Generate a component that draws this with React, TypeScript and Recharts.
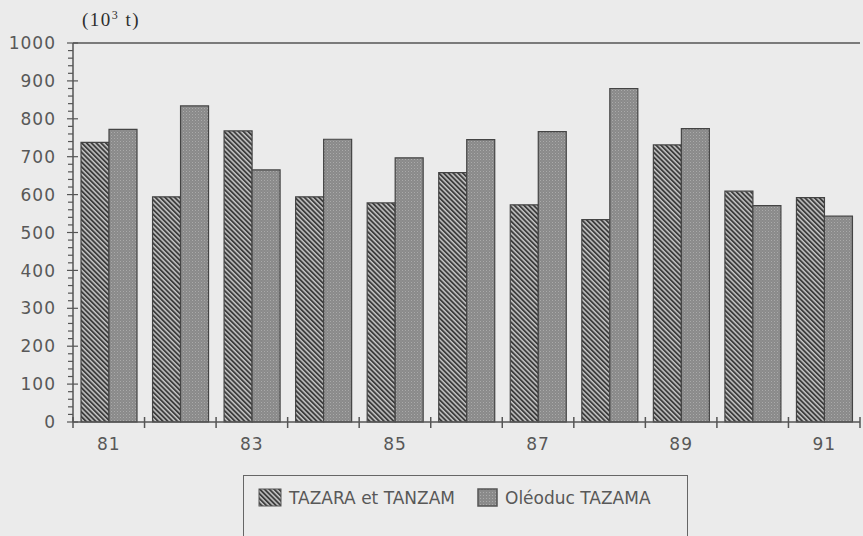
import React from 'react';
import { BarChart, Bar, XAxis, YAxis } from 'recharts';

const years = ['81', '82', '83', '84', '85', '86', '87', '88', '89', '90', '91'];
const yearLabels = ['81', '', '83', '', '85', '', '87', '', '89', '', '91'];
const tazaraValues = [738, 594, 768, 594, 578, 658, 573, 534, 731, 609, 592];
const tazamaValues = [772, 834, 665, 746, 697, 745, 766, 880, 774, 571, 543];
const yTicks = [
  0, 20, 40, 60, 80, 100, 120, 140, 160, 180, 200, 220, 240, 260, 280, 300, 320, 340, 360, 380,
  400, 420, 440, 460, 480, 500, 520, 540, 560, 580, 600, 620, 640, 660, 680, 700, 720, 740, 760,
  780, 800, 820, 840, 860, 880, 900, 920, 940, 960, 980, 1000,
];
const Y_MAX = 1000;
const seriesNames = ['TAZARA et TANZAM', 'Oléoduc TAZAMA'];
const unitParts = ['(10', '3', ' t)'];

const data = years.map((y, i) => ({ year: y, tazara: tazaraValues[i], tazama: tazamaValues[i] }));

const W = 863;
const H = 536;
const MARGIN = { top: 43, right: 3, bottom: 0, left: 0 };
const AXIS_COLOR = '#555';
const TEXT_COLOR = '#585858';
const TICK_FONT = '"DejaVu Sans", Verdana, sans-serif';

const YTick = (props: any) => {
  const { x, y, payload } = props;
  const v = payload.value;
  const major = v % 100 === 0;
  return (
    <g>
      {v === Y_MAX && <line x1={x} x2={W - MARGIN.right} y1={y} y2={y} stroke={AXIS_COLOR} strokeWidth={1.5} />}
      <line x1={major ? x - 6 : x - 5} x2={major ? x + 5 : x} y1={y} y2={y} stroke={AXIS_COLOR} strokeWidth={1.2} />
      {major && (
        <text
          x={x - 17}
          y={y}
          dy="0.36em"
          textAnchor="end"
          fontFamily={TICK_FONT}
          fontSize={17}
          letterSpacing={1}
          fill={TEXT_COLOR}
        >
          {v}
        </text>
      )}
    </g>
  );
};

const XTick = (props: any) => {
  const { x, y, index, width, visibleTicksCount } = props;
  const n = visibleTicksCount || years.length;
  const band = (typeof width === 'number' && width > 0 ? width : 787) / n;
  const label = yearLabels[index];
  const left = x - band / 2;
  const right = x + band / 2;
  return (
    <g>
      <line x1={left} x2={left} y1={y - 5} y2={y + 6} stroke={AXIS_COLOR} strokeWidth={1.5} />
      {index === n - 1 && <line x1={right} x2={right} y1={y - 5} y2={y + 6} stroke={AXIS_COLOR} strokeWidth={1.5} />}
      {label && (
        <text x={x} y={y + 28} textAnchor="middle" fontFamily={TICK_FONT} fontSize={17} letterSpacing={1} fill={TEXT_COLOR}>
          {label}
        </text>
      )}
    </g>
  );
};

const UnitLabel = (props: any) => {
  const vb = props.viewBox || { x: 0, y: 43, width: 73 };
  return (
    <text
      x={vb.x + vb.width + 9}
      y={vb.y - 17}
      fontFamily='"Liberation Serif", "Times New Roman", serif'
      fontSize={19}
      letterSpacing={1.5}
      fill="#2e2e2e"
    >
      <tspan>{unitParts[0]}</tspan>
      <tspan fontSize={12} dy={-7}>{unitParts[1]}</tspan>
      <tspan dy={7}>{unitParts[2]}</tspan>
    </text>
  );
};

const PatternDefs = () => (
  <defs>
    <pattern id="hatch" patternUnits="userSpaceOnUse" width="3.4" height="3.4" patternTransform="rotate(-45)">
      <rect x="0" y="0" width="3.4" height="3.4" fill="#c6c6c6" />
      <rect x="0" y="0" width="1.9" height="3.4" fill="#3e3e3e" />
    </pattern>
    <pattern id="dots" patternUnits="userSpaceOnUse" width="3" height="3">
      <rect x="0" y="0" width="3" height="3" fill="#8a8a8a" />
      <rect x="0" y="0" width="1" height="1" fill="#aaaaaa" />
      <rect x="1.5" y="1.5" width="1" height="1" fill="#9c9c9c" />
    </pattern>
  </defs>
);

export default function App() {
  return (
    <div
      style={{
        position: 'absolute',
        left: 0,
        top: 0,
        width: W,
        height: H,
        background: '#ebebeb',
        overflow: 'hidden',
      }}
    >
      <BarChart width={W} height={H} data={data} margin={MARGIN} barGap={0}>
        <PatternDefs />
        <XAxis
          dataKey="year"
          height={114}
          tickSize={0}
          tickMargin={0}
          tickLine={false}
          tick={<XTick />}
          interval={0}
          stroke={AXIS_COLOR}
          strokeWidth={1.5}
        />
        <YAxis
          width={73}
          domain={[0, Y_MAX]}
          ticks={yTicks}
          interval={0}
          tickSize={0}
          tickMargin={0}
          tickLine={false}
          tick={<YTick />}
          stroke={AXIS_COLOR}
          strokeWidth={1.5}
          label={<UnitLabel />}
        />
        <YAxis yAxisId="right" orientation="right" width={0} domain={[0, Y_MAX]} tick={false} tickLine={false} stroke={AXIS_COLOR} strokeWidth={1.5} />
        <Bar dataKey="tazara" name={seriesNames[0]} barSize={28} fill="url(#hatch)" stroke="#444" strokeWidth={1.2} isAnimationActive={false} />
        <Bar dataKey="tazama" name={seriesNames[1]} barSize={28} fill="url(#dots)" stroke="#444" strokeWidth={1.2} isAnimationActive={false} />
      </BarChart>
      <div
        style={{
          position: 'absolute',
          left: 243,
          top: 475,
          width: 445,
          height: 70,
          border: '1.5px solid #666',
          boxSizing: 'border-box',
        }}
      />
      <svg width={W} height={H} style={{ position: 'absolute', left: 0, top: 0, pointerEvents: 'none' }}>
        <defs>
          <pattern id="lhatch" patternUnits="userSpaceOnUse" width="3.4" height="3.4" patternTransform="rotate(-45)">
            <rect x="0" y="0" width="3.4" height="3.4" fill="#c6c6c6" />
            <rect x="0" y="0" width="1.9" height="3.4" fill="#3e3e3e" />
          </pattern>
          <pattern id="ldots" patternUnits="userSpaceOnUse" width="3" height="3">
            <rect x="0" y="0" width="3" height="3" fill="#8a8a8a" />
            <rect x="0" y="0" width="1" height="1" fill="#aaaaaa" />
          </pattern>
        </defs>
        <rect x={259} y={489} width={22} height={17} fill="url(#lhatch)" stroke="#555" strokeWidth={1} />
        <text x={289} y={504} fontFamily={TICK_FONT} fontSize={17} fill={TEXT_COLOR}>
          {seriesNames[0]}
        </text>
        <rect x={478} y={489} width={19} height={17} fill="url(#ldots)" stroke="#555" strokeWidth={1.5} />
        <text x={505} y={504} fontFamily={TICK_FONT} fontSize={17} fill={TEXT_COLOR}>
          {seriesNames[1]}
        </text>
      </svg>
    </div>
  );
}
